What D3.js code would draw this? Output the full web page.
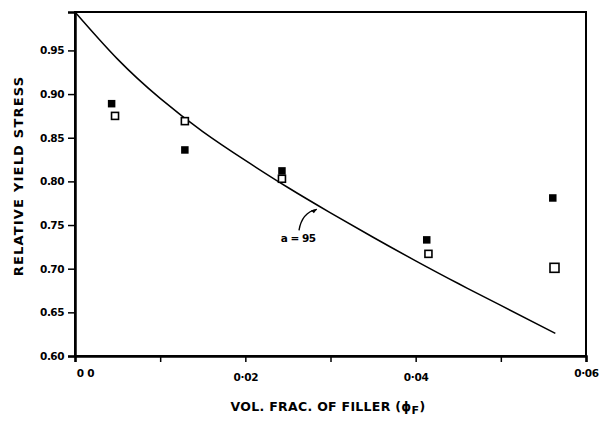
<!DOCTYPE html>
<html><head><meta charset="utf-8">
<script src="https://cdn.jsdelivr.net/npm/d3@7"></script>
<style>body{margin:0;background:#fff}svg{display:block}</style>
</head><body>
<script>
const filledPhi = [0.0043, 0.0129, 0.0243, 0.0413, 0.0561];
const filledVal = [0.889, 0.836, 0.812, 0.733, 0.781];
const openPhi = [0.0047, 0.0129, 0.0243, 0.0415, 0.0563];
const openVal = [0.875, 0.869, 0.803, 0.717, 0.701];
const curvePhi = [0, 0.005, 0.01, 0.015, 0.02, 0.025, 0.03, 0.035, 0.04, 0.045, 0.05, 0.0564];
const curveVal = [0.994, 0.940, 0.895, 0.857, 0.824, 0.793, 0.764, 0.736, 0.709, 0.683, 0.658, 0.626];
const yTicks = [0.60, 0.65, 0.70, 0.75, 0.80, 0.85, 0.90, 0.95];
const yTickLabels = ["0.60", "0.65", "0.70", "0.75", "0.80", "0.85", "0.90", "0.95"];
const xTicks = [0, 0.01, 0.02, 0.03, 0.04, 0.05, 0.06];
const xTickLabels = ["0 0", "", "0·02", "", "0·04", "", "0·06"];
const annotation = "a = 95";

const W = 605, H = 428;
const L = 75, R = 586, T = 12, B = 356;
const svg = d3.select("body").append("svg").attr("width", W).attr("height", H);
const x = d3.scaleLinear().domain([0, 0.06]).range([L, R]);
const y = d3.scaleLinear().domain([0.60, 0.994]).range([B, T]);
const font = "'DejaVu Sans', sans-serif";

// frame
svg.append("rect").attr("x", L).attr("y", T).attr("width", R - L).attr("height", B - T)
  .attr("fill", "none").attr("stroke", "#000").attr("stroke-width", 2);

// y axis
const ya = svg.append("g").attr("transform", `translate(${L},0)`)
  .call(d3.axisLeft(y).tickValues(yTicks).tickSize(7).tickPadding(4)
    .tickFormat((d, i) => yTickLabels[i]));
ya.select(".domain").attr("stroke-width", 2.5);
ya.selectAll(".tick line").attr("stroke-width", 1.5);
ya.selectAll(".tick text").attr("font-family", font).attr("font-size", 10.5)
  .attr("font-weight", "bold").attr("letter-spacing", -0.5);

// x axis
const xa = svg.append("g").attr("transform", `translate(0,${B})`)
  .call(d3.axisBottom(x).tickValues(xTicks).tickSize(6).tickPadding(6)
    .tickFormat((d, i) => xTickLabels[i]));
xa.select(".domain").attr("stroke-width", 2.5);
xa.selectAll(".tick line").attr("stroke-width", 1.5);
xa.selectAll(".tick text").attr("font-family", font).attr("font-size", 10.5)
  .attr("font-weight", "bold").attr("letter-spacing", -0.3)
  .attr("dx", (d, i) => i === 0 ? 10 : 0)
  .attr("dy", (d, i) => (i === 2 || i === 4) ? "1.2em" : "0.9em");

// curve
const curve = curvePhi.map((p, i) => [p, curveVal[i]]);
svg.append("path").datum(curve)
  .attr("fill", "none").attr("stroke", "#000").attr("stroke-width", 1.5)
  .attr("d", d3.line().x(d => x(d[0])).y(d => y(d[1])).curve(d3.curveNatural));

// filled squares
const fs = 7.5;
svg.selectAll(".fsq").data(filledPhi.map((p, i) => [p, filledVal[i]])).enter()
  .append("rect").attr("class", "fsq")
  .attr("x", d => x(d[0]) - fs / 2).attr("y", d => y(d[1]) - fs / 2)
  .attr("width", fs).attr("height", fs).attr("fill", "#000");

// open squares
svg.selectAll(".osq").data(openPhi.map((p, i) => [p, openVal[i], i])).enter()
  .append("rect").attr("class", "osq")
  .attr("x", d => x(d[0]) - (d[2] === 4 ? 4.5 : 3.5))
  .attr("y", d => y(d[1]) - (d[2] === 4 ? 4.5 : 3.5))
  .attr("width", d => d[2] === 4 ? 9 : 7).attr("height", d => d[2] === 4 ? 9 : 7)
  .attr("fill", "#fff").attr("stroke", "#000").attr("stroke-width", 1.6);

// annotation
const ax = 0.0262, ay = 0.73;
svg.append("text").attr("x", x(ax)).attr("y", y(ay)).attr("text-anchor", "middle")
  .attr("font-family", font).attr("font-size", 10.5).attr("font-weight", "bold")
  .attr("letter-spacing", -0.5).text(annotation);
const ptipX = x(0.0284), ptipY = y(0.768);
const pstartX = x(0.0263), pstartY = y(0.744);
svg.append("path")
  .attr("d", `M${pstartX},${pstartY} Q${pstartX + 3},${ptipY + 3} ${ptipX},${ptipY}`)
  .attr("fill", "none").attr("stroke", "#000").attr("stroke-width", 1.4);
svg.append("path")
  .attr("d", `M${ptipX},${ptipY} l-6,1 l3,3 z`).attr("fill", "#000");

// axis titles
svg.append("text").attr("x", 328).attr("y", 411).attr("text-anchor", "middle")
  .attr("font-family", font).attr("font-size", 12.5).attr("font-weight", "bold")
  .attr("letter-spacing", 0.3)
  .html('VOL. FRAC. OF FILLER (ϕ<tspan dy="3" font-size="11">F</tspan><tspan dy="-3">)</tspan>');

svg.append("text").attr("transform", "translate(23,176) rotate(-90)")
  .attr("text-anchor", "middle").attr("font-family", font).attr("font-size", 13)
  .attr("font-weight", "bold").attr("letter-spacing", 1.2)
  .text("RELATIVE  YIELD  STRESS");
</script>
</body></html>
